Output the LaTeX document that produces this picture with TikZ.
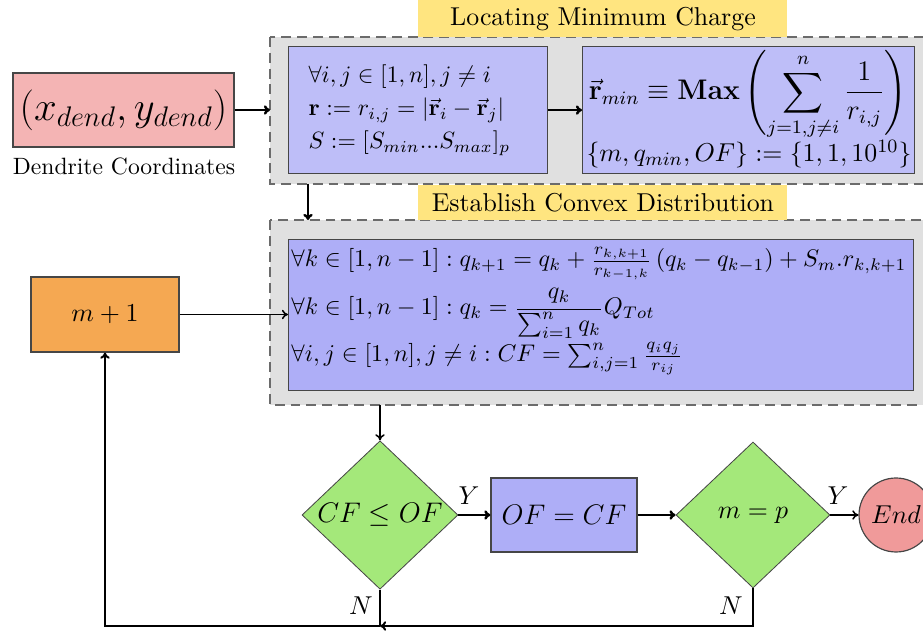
\RequirePackage{fix-cm}
\documentclass[tikz,border=0pt]{standalone}
\usepackage{amsmath}
\usetikzlibrary{shapes.geometric,arrows.meta}
\definecolor{pinkc}{RGB}{244,180,180}
\definecolor{grayc}{RGB}{224,224,224}
\definecolor{yellowc}{RGB}{255,229,128}
\definecolor{blueA}{RGB}{190,190,248}
\definecolor{blueB}{RGB}{174,174,247}
\definecolor{orangec}{RGB}{245,168,82}
\definecolor{greenc}{RGB}{164,232,122}
\definecolor{endc}{RGB}{240,154,154}
\definecolor{edgec}{RGB}{70,70,70}
\newcommand{\myS}{\fontsize{10}{14}\selectfont}
\newcommand{\myB}{\fontsize{10.2}{14}\selectfont}
\newcommand{\myN}{\fontsize{10.95}{13.6}\selectfont}
\newcommand{\myL}{\fontsize{12}{14.5}\selectfont}
\newcommand{\myLL}{\fontsize{17.28}{22}\selectfont}
\tikzset{
  boxbase/.style={draw=edgec, line width=0.5pt, inner sep=0pt},
  pinkbox/.style={boxbase, fill=pinkc},
  grayarea/.style={draw=edgec!80, fill=grayc, line width=0.6pt, dash pattern=on 4.2pt off 2.5pt},
  titlebox/.style={fill=yellowc, inner sep=0pt, font=\myN},
  blueboxA/.style={boxbase, fill=blueA},
  blueboxB/.style={boxbase, fill=blueB},
  orangebox/.style={boxbase, fill=orangec},
  eqline/.style={inner sep=0pt, anchor=base west},
  decision/.style={diamond, draw=edgec, line width=0.35pt, fill=greenc, inner sep=0pt, minimum width=66.1pt, minimum height=61.86pt},
  endnode/.style={circle, draw=edgec, line width=0.5pt, fill=endc, inner sep=0pt, minimum size=31.35pt, font=\myN},
  tip/.style={-{To[length=2.6pt,width=4pt]}},
  thickarr/.style={line width=1.05pt, tip},
  thinarr/.style={line width=0.65pt, tip},
  loopline/.style={line width=0.85pt},
}
\begin{document}
\begin{tikzpicture}[x=0.4237pt, y=-0.4237pt]
\useasboundingbox (0,0) rectangle (923,633);
\clip (0,0) rectangle (923,633);

% input
\node[pinkbox, minimum width=93.64pt, minimum height=31.35pt, font=\myLL] (dend) at (123.5,110) {$(x_{dend},y_{dend})$};
\node[font=\myS] (cap) at (124,166) {Dendrite Coordinates};

% stage 1
\draw[grayarea] (270,37) rectangle (940,184);
\coordinate (g1w) at (270,110);
\coordinate (g1s) at (308,184);
\node[titlebox, anchor=north west, minimum width=156.35pt, minimum height=15.68pt] (t1) at (418,0) {Locating Minimum Charge};
\node[blueboxA, anchor=north west, minimum width=109.74pt, minimum height=53.81pt, text width=92.79pt, inner xsep=8.47pt, align=left, font=\myS] (b1) at (288,46)
  {$\forall i,j\in[1,n], j\neq i$\\
   $\mathbf{r} := r_{i,j} = |\vec{\mathbf{r}}_i-\vec{\mathbf{r}}_j|$\\
   $S := [S_{min}...S_{max}]_p$};
\node[blueboxA, anchor=north west, minimum width=140.67pt, minimum height=53.81pt] (b2) at (582,46) {};
\node[inner sep=0pt, anchor=base, font=\myL] (b2l1) at (748,100)
  {$\displaystyle\vec{\mathbf{r}}_{min}\equiv\mathbf{Max}\left(\sum_{j=1,j\neq i}^{n}\frac{1}{r_{i,j}}\right)$};
\node[inner sep=0pt, anchor=base, font=\myN] (b2l2) at (749,162)
  {$\{m,q_{min},OF\} := \{1,1,10^{10}\}$};

% stage 2
\draw[grayarea] (270,220) rectangle (940,405);
\coordinate (g2n) at (308,220);
\coordinate (g2s) at (380,405);
\node[titlebox, anchor=north west, minimum width=156.35pt, minimum height=14.83pt] (t2) at (418,185) {Establish Convex Distribution};
\node[blueboxB, anchor=north west, minimum width=264.81pt, minimum height=63.98pt] (b3) at (288,239) {};
\node[eqline, font=\myB] (b3l1) at (291,267)
  {$\forall k\in[1,n-1]: q_{k+1} = q_k+\frac{r_{k,k+1}}{r_{k-1,k}}\left(q_k-q_{k-1}\right)+S_m.r_{k,k+1}$};
\node[eqline, font=\myB] (b3l2) at (291,315)
  {$\forall k\in[1,n-1]: q_k = \dfrac{q_k}{\sum_{i=1}^{n}q_k}Q_{Tot}$};
\node[eqline, font=\myB] (b3l3) at (291,362)
  {$\forall i,j\in[1,n], j\neq i: CF = \sum_{i,j=1}^{n}\frac{q_iq_j}{r_{ij}}$};

\node[orangebox, minimum width=62.71pt, minimum height=31.78pt, font=\myN] (m1) at (105,314.5) {$m+1$};

% decisions
\node[decision, font=\myL] (d1) at (380,515) {$CF\leq OF$};
\node[blueboxB, minimum width=61.86pt, minimum height=31.35pt, font=\myL] (ofcf) at (564,515) {$OF=CF$};
\node[decision, minimum width=65.25pt, font=\myN] (d2) at (753,515) {$m=p$};
\node[endnode] (end) at (896,515) {$End$};

% connectors
\draw[thickarr] (dend.east) -- (dend.east -| g1w);
\draw[thickarr] (b1.east) -- (b2.west);
\draw[thickarr] (g1s) -- (g2n);
\draw[thinarr] (m1.east) -- (m1.east -| b3.west);
\draw[thinarr] (g2s) -- (d1.north);
\draw[thickarr] (d1.east) -- (ofcf.west);
\draw[thickarr] (ofcf.east) -- (d2.west);
\draw[thinarr] (d2.east) -- (end.west);
\node[font=\myN] (y1) at (469,496) {$Y$};
\node[font=\myN] (y2) at (838,496) {$Y$};

\coordinate (jn) at (380,626);
\draw[loopline] (d1.south) -- (jn);
\draw[loopline, tip] (d2.south) |- (jn);
\draw[loopline, tip] (jn) -| (m1.south);
\node[font=\myN] (n1) at (361,606) {$N$};
\node[font=\myN] (n2) at (731,606) {$N$};
\end{tikzpicture}
\end{document}
